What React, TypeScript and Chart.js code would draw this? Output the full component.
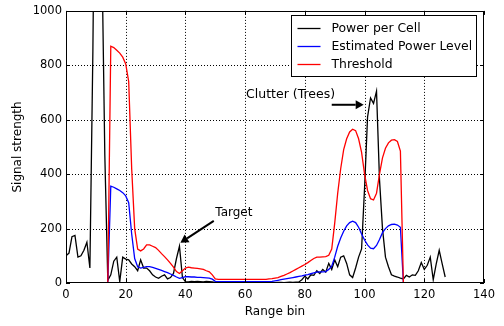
import { useEffect, useRef } from "react";
import { Chart, registerables } from "chart.js";

Chart.register(...registerables);

// Range bins are the index of each value (0..127)
const powerPerCell: number[] = [
  100, 110, 170, 175, 95, 100, 120, 150, 55, 850,
  2000, 2200, 1230, 470, 10, 30, 80, 95, 5, 95,
  88, 85, 70, 60, 45, 85, 55, 55, 45, 30,
  22, 17, 25, 30, 15, 20, 35, 90, 135, 20,
  5, 4, 6, 5, 6, 5, 4, 6, 5, 4,
  2, 2, 1, 2, 1, 2, 1, 2, 2, 1,
  2, 1, 2, 1, 2, 1, 2, 1, 2, 2,
  1, 2, 2, 1, 2, 3, 2, 3, 4, 12,
  25, 15, 30, 28, 45, 35, 50, 40, 72, 50,
  85, 60, 95, 100, 72, 30, 20, 55, 95, 125,
  350, 610, 680, 660, 705, 380, 200, 95, 60, 30,
  25, 22, 18, 15, 28, 22, 30, 28, 45, 75,
  50, 65, 95, 12, 70, 120, 70, 22,
];

const estimatedPower: (number | null)[] = [
  null, null, null, null, null, null, null, null, null, null,
  null, null, null, null, 0, 356, 352, 346, 340, 332,
  320, 295, 180, 90, 60, 55, 57, 60, 60, 57,
  54, 50, 46, 42, 38, 33, 28, 22, 17, 20,
  23, 23, 22, 22, 21, 21, 20, 19, 18, 14,
  6, 5, 5, 5, 5, 5, 5, 5, 5, 5,
  5, 5, 5, 5, 5, 5, 5, 5, 5, 6,
  8, 10, 12, 14, 16, 18, 20, 22, 24, 26,
  29, 31, 34, 37, 40, 41, 41, 42, 50, 62,
  95, 135, 165, 190, 210, 222, 227, 222, 205, 180,
  158, 140, 128, 126, 138, 160, 185, 200, 210, 215,
  216, 213, 205, 0, null, null, null, null, null, null,
  null, null, null, null, null, null, null, null,
];

const threshold: (number | null)[] = [
  null, null, null, null, null, null, null, null, null, null,
  null, null, null, null, 0, 870, 865, 855, 845, 830,
  805, 740, 420, 200, 125, 118, 125, 140, 140, 135,
  130, 120, 108, 97, 85, 72, 58, 42, 35, 45,
  55, 58, 56, 55, 54, 52, 50, 45, 41, 30,
  15, 13, 13, 13, 13, 13, 13, 13, 13, 13,
  13, 13, 13, 13, 13, 13, 13, 13, 15, 16,
  18, 20, 24, 28, 33, 38, 44, 50, 56, 62,
  68, 75, 83, 90, 95, 95, 96, 97, 102, 125,
  220, 330, 420, 490, 530, 555, 565, 560, 530, 480,
  400, 340, 310, 305, 330, 400, 460, 495, 515, 525,
  527, 520, 485, 0, null, null, null, null, null, null,
  null, null, null, null, null, null, null, null,
];

const seriesNames = ["Power per Cell", "Estimated Power Level", "Threshold"];
const seriesColors = ["#000000", "#0000ff", "#ff0000"];

const xTicks = [0, 20, 40, 60, 80, 100, 120, 140];
const yTicks = [0, 200, 400, 600, 800, 1000];

// annotations in data coordinates
const targetLabel = { text: "Target", x: 50, y: 256, size: 12, tail: [49.5, 228], head: [38.3, 148] };
const clutterLabel = { text: "Clutter (Trees)", x: 60.3, y: 692, size: 12.5, tail: [89, 655], head: [99.7, 655] };

const fam = "'DejaVu Sans'";

function toPts(arr: (number | null)[]) {
  return arr.map((v, i) => ({ x: i, y: v }));
}

function drawArrow(ctx: CanvasRenderingContext2D, x1: number, y1: number, x2: number, y2: number) {
  const ang = Math.atan2(y2 - y1, x2 - x1);
  const hl = 8, hw = 4.5;
  const bx = x2 - hl * Math.cos(ang), by = y2 - hl * Math.sin(ang);
  ctx.save();
  ctx.strokeStyle = "#000";
  ctx.fillStyle = "#000";
  ctx.lineWidth = 2;
  ctx.beginPath();
  ctx.moveTo(x1, y1);
  ctx.lineTo(bx, by);
  ctx.stroke();
  ctx.beginPath();
  ctx.moveTo(x2, y2);
  ctx.lineTo(bx + hw * Math.sin(ang), by - hw * Math.cos(ang));
  ctx.lineTo(bx - hw * Math.sin(ang), by + hw * Math.cos(ang));
  ctx.closePath();
  ctx.fill();
  ctx.restore();
}

const gridPlugin = {
  id: "dotgrid",
  beforeDatasetsDraw(chart: any) {
    const ctx: CanvasRenderingContext2D = chart.ctx;
    const ca = chart.chartArea;
    const xs = chart.scales.x, ys = chart.scales.y;
    ctx.save();
    ctx.strokeStyle = "#000";
    ctx.lineWidth = 1;
    ctx.setLineDash([1, 2]);
    ctx.beginPath();
    xTicks.slice(1, -1).forEach((t) => {
      const px = Math.round(xs.getPixelForValue(t)) + 0.5;
      ctx.moveTo(px, ca.top);
      ctx.lineTo(px, ca.bottom);
    });
    yTicks.slice(1, -1).forEach((t) => {
      const py = Math.round(ys.getPixelForValue(t)) + 0.5;
      ctx.moveTo(ca.left, py);
      ctx.lineTo(ca.right, py);
    });
    ctx.stroke();
    ctx.restore();
  },
};

const decorPlugin = {
  id: "decor",
  afterDraw(chart: any) {
    const ctx: CanvasRenderingContext2D = chart.ctx;
    const ca = chart.chartArea;
    const xs = chart.scales.x, ys = chart.scales.y;
    ctx.save();
    // frame
    ctx.strokeStyle = "#000";
    ctx.lineWidth = 1;
    ctx.strokeRect(Math.round(ca.left) + 0.5, Math.round(ca.top) + 0.5, Math.round(ca.right - ca.left) - 1, Math.round(ca.bottom - ca.top) - 1);
    // inward ticks
    ctx.beginPath();
    xTicks.forEach((t) => {
      const px = Math.round(xs.getPixelForValue(t)) + 0.5;
      ctx.moveTo(px, ca.bottom); ctx.lineTo(px, ca.bottom - 4);
      ctx.moveTo(px, ca.top); ctx.lineTo(px, ca.top + 4);
    });
    yTicks.forEach((t) => {
      const py = Math.round(ys.getPixelForValue(t)) + 0.5;
      ctx.moveTo(ca.left, py); ctx.lineTo(ca.left + 4, py);
      ctx.moveTo(ca.right, py); ctx.lineTo(ca.right - 4, py);
    });
    ctx.stroke();

    // axis titles
    ctx.fillStyle = "#000";
    ctx.font = `12px ${fam}`;
    ctx.textAlign = "center";
    ctx.textBaseline = "middle";
    ctx.fillText("Range bin", (ca.left + ca.right) / 2, ca.bottom + 29);
    ctx.save();
    ctx.translate(18, (ca.top + ca.bottom) / 2);
    ctx.rotate(-Math.PI / 2);
    ctx.fillText("Signal strength", 0, 0);
    ctx.restore();

    // annotations
    [targetLabel, clutterLabel].forEach((a) => {
      ctx.font = `${a.size}px ${fam}`;
      ctx.textAlign = "left";
      ctx.textBaseline = "middle";
      ctx.fillStyle = "#000";
      ctx.fillText(a.text, xs.getPixelForValue(a.x), ys.getPixelForValue(a.y));
      drawArrow(
        ctx,
        xs.getPixelForValue(a.tail[0]), ys.getPixelForValue(a.tail[1]),
        xs.getPixelForValue(a.head[0]), ys.getPixelForValue(a.head[1])
      );
    });

    // legend
    ctx.font = `12.4px ${fam}`;
    const w = 185, h = 61;
    const bx = Math.round(ca.right - 8 - w) + 0.5;
    const by = Math.round(ca.top + 4) + 0.5;
    ctx.fillStyle = "#fff";
    ctx.fillRect(bx, by, w, h);
    ctx.strokeStyle = "#000";
    ctx.lineWidth = 1;
    ctx.strokeRect(bx, by, w, h);
    seriesNames.forEach((name, i) => {
      const ly = by + 13 + i * 18;
      ctx.strokeStyle = seriesColors[i];
      ctx.lineWidth = 1.3;
      ctx.beginPath();
      ctx.moveTo(bx + 6, ly);
      ctx.lineTo(bx + 29, ly);
      ctx.stroke();
      ctx.fillStyle = "#000";
      ctx.textAlign = "left";
      ctx.textBaseline = "middle";
      ctx.fillText(name, bx + 40, ly);
    });
    ctx.restore();
  },
};

export default function App() {
  const ref = useRef<HTMLCanvasElement | null>(null);
  useEffect(() => {
    document.body.style.margin = "0";
    const canvas = ref.current!;
    const tickFont = { family: fam, size: 11.5 };
    const chart = new Chart(canvas, {
      type: "line",
      data: {
        datasets: [
          { label: seriesNames[0], data: toPts(powerPerCell), borderColor: seriesColors[0], order: 3 },
          { label: seriesNames[1], data: toPts(estimatedPower), borderColor: seriesColors[1], order: 2 },
          { label: seriesNames[2], data: toPts(threshold), borderColor: seriesColors[2], order: 1 },
        ].map((d) => ({
          ...d,
          borderWidth: 1.3,
          pointRadius: 0,
          tension: 0,
          fill: false,
          spanGaps: false,
          clip: 0,
        })) as any,
      },
      options: {
        animation: false,
        responsive: false,
        devicePixelRatio: 1,
        layout: { padding: { left: 0, right: 20, top: 5, bottom: 0 } },
        plugins: { legend: { display: false }, tooltip: { enabled: false } },
        events: [],
        scales: {
          x: {
            type: "linear",
            min: 0,
            max: 140,
            ticks: { stepSize: 20, color: "#000", font: tickFont, padding: 5, maxRotation: 0, callback: (v: any) => String(v) },
            grid: { display: false, drawTicks: false },
            border: { display: false },
            afterFit: (s: any) => { s.height = 43; },
          },
          y: {
            type: "linear",
            min: 0,
            max: 1000,
            ticks: { stepSize: 200, color: "#000", font: tickFont, padding: 4, callback: (v: any) => String(v) },
            grid: { display: false, drawTicks: false },
            border: { display: false },
            afterFit: (s: any) => { s.width = 66; },
          },
        },
      },
      plugins: [gridPlugin, decorPlugin],
    });
    return () => chart.destroy();
  }, []);
  return <canvas ref={ref} width={504} height={326} style={{ display: "block" }} />;
}
